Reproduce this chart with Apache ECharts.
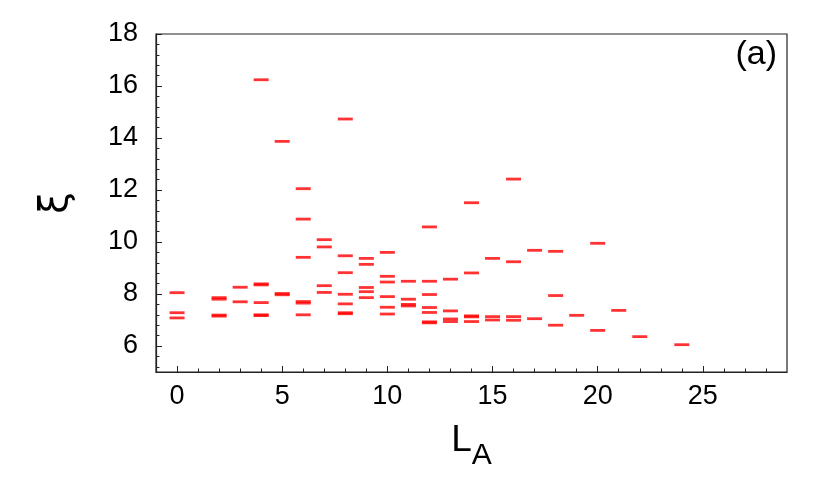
<!DOCTYPE html>
<html>
<head>
<meta charset="utf-8">
<script src="https://cdn.jsdelivr.net/npm/echarts@6/dist/echarts.min.js"></script>
<style>
  html, body { margin: 0; padding: 0; background: #fff; }
  #chart { width: 830px; height: 492px; }
</style>
</head>
<body>
<div id="chart"></div>
<script>
// L_A value of each dash and its xi value
const laValues = [
  0, 0, 0,
  2, 2, 2, 2,
  3, 3,
  4, 4, 4, 4, 4, 4,
  5, 5, 5,
  6, 6, 6, 6, 6, 6,
  7, 7, 7, 7,
  8, 8, 8, 8, 8, 8, 8,
  9, 9, 9, 9, 9,
  10, 10, 10, 10, 10, 10,
  11, 11, 11, 11,
  12, 12, 12, 12, 12, 12, 12,
  13, 13, 13, 13,
  14, 14, 14, 14, 14,
  15, 15, 15,
  16, 16, 16, 16,
  17, 17,
  18, 18, 18,
  19,
  20, 20,
  21,
  22,
  24
];
const xiValues = [
  8.05, 7.28, 7.08,
  7.86, 7.80, 7.19, 7.15,
  8.26, 7.70,
  16.24, 8.39, 8.35, 7.67, 7.20, 7.17,
  13.87, 8.02, 7.97,
  12.05, 10.88, 9.41, 7.71, 7.65, 7.20,
  10.09, 9.81, 8.32, 8.06,
  14.73, 9.47, 8.82, 7.99, 7.62, 7.28, 7.24,
  9.37, 9.14, 8.25, 8.09, 7.86,
  9.60, 8.68, 8.46, 7.90, 7.49, 7.23,
  8.49, 7.80, 7.60, 7.54,
  10.58, 8.49, 7.98, 7.48, 7.29, 6.93, 6.89,
  8.57, 7.35, 7.04, 6.94,
  11.51, 8.81, 7.16, 7.12, 6.94,
  9.37, 7.13, 7.00,
  12.42, 9.24, 7.13, 6.99,
  9.68, 7.05,
  9.64, 7.94, 6.80,
  7.18,
  9.95, 6.60,
  7.37,
  6.36,
  6.05
];

const xMajorTicks = [0, 5, 10, 15, 20, 25];
const xMinorTicks = [1, 2, 3, 4, 6, 7, 8, 9, 11, 12, 13, 14, 16, 17, 18, 19, 21, 22, 23, 24, 26, 27, 28];
const yMajorTicks = [6, 8, 10, 12, 14, 16, 18];
const yMinorTicks = [5.2, 5.6, 6.4, 6.8, 7.2, 7.6, 8.4, 8.8, 9.2, 9.6, 10.4, 10.8, 11.2, 11.6,
  12.4, 12.8, 13.2, 13.6, 14.4, 14.8, 15.2, 15.6, 16.4, 16.8, 17.2, 17.6];

const font = 'Liberation Sans, Arial, sans-serif';
const axisColor = '#222';

const points = laValues.map((x, i) => [x, xiValues[i]]);

const chart = echarts.init(document.getElementById('chart'));

chart.setOption({
  animation: false,
  grid: {
    left: 156, right: 43, top: 34, bottom: 120,
    show: true, borderColor: axisColor, borderWidth: 1.2
  },
  xAxis: [
    {
      type: 'value', min: -1, max: 29, position: 'bottom',
      axisLine: { onZero: false, lineStyle: { color: axisColor, width: 1.2 } },
      axisTick: { inside: true, length: 6, customValues: xMajorTicks, lineStyle: { color: axisColor } },
      axisLabel: { customValues: xMajorTicks, fontSize: 27, margin: 11, color: '#000', fontFamily: font },
      splitLine: { show: false },
      name: '{l|L}{s|A}',
      nameLocation: 'middle',
      nameGap: 50,
      nameTextStyle: {
        rich: {
          l: { fontSize: 37, fontFamily: font, color: '#000', padding: [0, 0, 12, 0] },
          s: { fontSize: 30, fontFamily: font, color: '#000', verticalAlign: 'bottom' }
        }
      }
    },
    {
      type: 'value', min: -1, max: 29, position: 'bottom',
      axisLine: { show: false, onZero: false },
      axisTick: { inside: true, length: 3.5, customValues: xMinorTicks, lineStyle: { color: axisColor } },
      axisLabel: { show: false },
      splitLine: { show: false }
    }
  ],
  yAxis: [
    {
      type: 'value', min: 5, max: 18, position: 'left',
      axisLine: { show: true, onZero: false, lineStyle: { color: axisColor, width: 1.2 } },
      axisTick: { show: true, inside: true, length: 6, customValues: yMajorTicks, lineStyle: { color: axisColor } },
      axisLabel: { customValues: yMajorTicks, fontSize: 27, margin: 18, color: '#000', fontFamily: font },
      splitLine: { show: false },
      name: 'ξ',
      nameLocation: 'middle',
      nameRotate: 90,
      nameGap: 80,
      nameTextStyle: { fontSize: 39, fontFamily: 'DejaVu Sans, sans-serif', color: '#000' }
    },
    {
      type: 'value', min: 5, max: 18, position: 'left',
      axisLine: { show: false, onZero: false },
      axisTick: { show: true, inside: true, length: 3.5, customValues: yMinorTicks, lineStyle: { color: axisColor } },
      axisLabel: { show: false },
      splitLine: { show: false }
    }
  ],
  graphic: [
    {
      type: 'text', right: 53, top: 38,
      style: { text: '(a)', fontSize: 34, fontFamily: font, fill: '#000' }
    }
  ],
  series: [
    {
      type: 'scatter',
      xAxisIndex: 0,
      yAxisIndex: 0,
      symbol: 'rect',
      symbolSize: [15, 2.8],
      itemStyle: { color: '#ff0000' },
      data: points,
      silent: true
    }
  ]
});
</script>
</body>
</html>
